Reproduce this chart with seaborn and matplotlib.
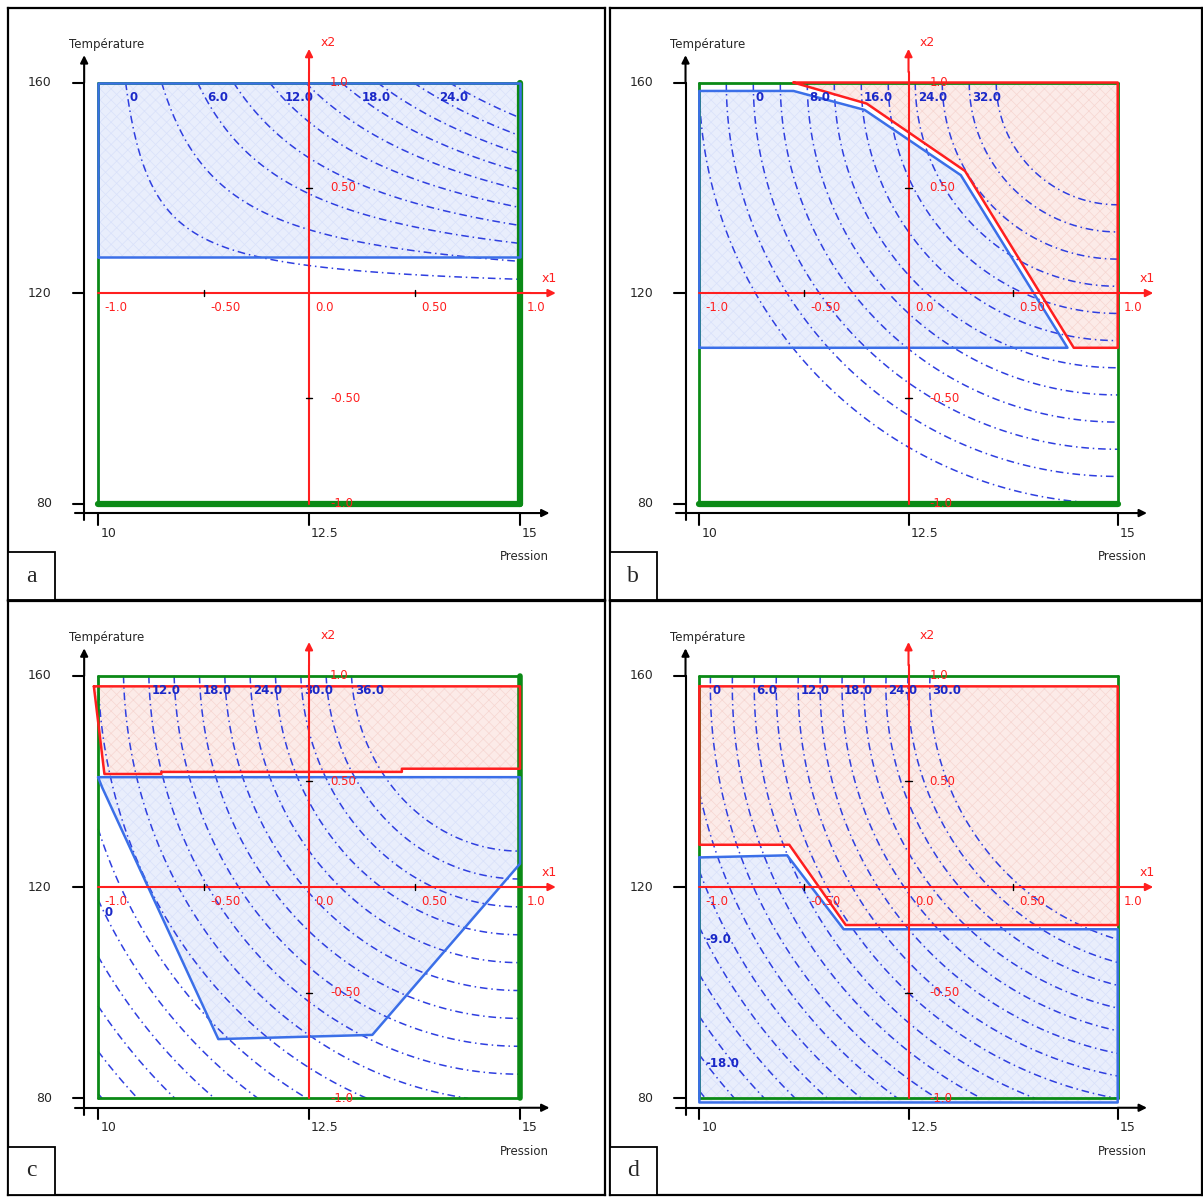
import numpy as np
import matplotlib
matplotlib.use("Agg")
import matplotlib.pyplot as plt
import seaborn as sns
from matplotlib.patches import Rectangle

sns.set_style("white")
plt.rcParams["font.family"] = ["DejaVu Sans"]
plt.rcParams["hatch.linewidth"] = 0.5

# ---- data -------------------------------------------------------------
panel_letters = ["a", "b", "c", "d"]

temp_ticks = ["80", "120", "160"]          # real temperature at coded -1, 0, 1
pres_ticks = ["10", "12.5", "15"]          # real pressure at coded -1, 0, 1
coded_ticks = [-1.0, -0.5, 0.0, 0.5, 1.0]
coded_text = ["-1.0", "-0.50", "0.0", "0.50", "1.0"]

# response surfaces (coded units)
a_model = [17.6, -2.3]                       # gain, offset : gain*(x1+1)*x2 + offset
b_model = [54.0, 31.0, 1.00, 1.00, 1.00]     # peak, slope, x1 centre, x2 centre, x2 stretch
c_model = [56.0, 25.0, 1.00, 1.05, 1.10]
d_model = [65.7, 28.6, 1.35, 0.95, 1.00]

a_levels = [0, 3, 6, 9, 12, 15, 18, 21, 24, 27]
b_levels = [-8, -4, 0, 4, 8, 12, 16, 20, 24, 28, 32, 36]
c_levels = [-12, -9, -6, -3, 0, 3, 6, 9, 12, 15, 18, 21, 24, 27, 30, 33, 36]
d_levels = [-21, -18, -15, -12, -9, -6, -3, 0, 3, 6, 9, 12, 15, 18, 21, 24, 27, 30]

a_top_labels = [0, 6, 12, 18, 24]
b_top_labels = [0, 8, 16, 24, 32]
c_top_labels = [12, 18, 24, 30, 36]
d_top_labels = [0, 6, 12, 18, 24, 30]
c_left_labels = [0]
d_left_labels = [-9, -18]

# feasible (blue) and rejected (red) regions
a_blue_x = [-1.0, 1.0, 1.0, -1.0, -1.0]
a_blue_y = [0.17, 0.17, 1.0, 1.0, 0.17]

b_blue_x = [-1.0, 0.76, 0.25, -0.21, -0.55, -1.0, -1.0]
b_blue_y = [-0.26, -0.26, 0.56, 0.87, 0.96, 0.96, -0.26]
b_red_x = [-0.55, 1.0, 1.0, 0.79, 0.27, -0.20, -0.55]
b_red_y = [1.0, 1.0, -0.26, -0.26, 0.58, 0.90, 1.0]

c_blue_x = [-1.0, 1.0, 1.0, 0.30, -0.43, -0.98, -1.0]
c_blue_y = [0.52, 0.52, 0.11, -0.70, -0.72, 0.47, 0.52]
c_red_x = [-1.02, 1.0, 1.0, 0.44, 0.44, -0.70, -0.70, -0.97, -1.02]
c_red_y = [0.95, 0.95, 0.56, 0.56, 0.545, 0.545, 0.535, 0.535, 0.95]

d_blue_x = [-1.0, -0.58, -0.31, 1.0, 1.0, -1.0, -1.0]
d_blue_y = [0.14, 0.15, -0.20, -0.20, -1.02, -1.02, 0.14]
d_red_x = [-1.0, 1.0, 1.0, -0.30, -0.57, -1.0, -1.0]
d_red_y = [0.95, 0.95, -0.18, -0.18, 0.20, 0.20, 0.95]

# ---- styling ----------------------------------------------------------
BLUE = "#2f3fe0"
BLUE_EDGE = "#3b6fe8"
RED = "#ff1f1f"
GREEN = "#0b8a16"
DASHDOT = (0, (5, 2.5, 1, 2.5))


def hyper(x1, x2, p):
    return p[0] * (x1 + 1) * x2 + p[1]


def cone(x1, x2, p):
    return p[0] - p[1] * np.sqrt((x1 - p[2]) ** 2 + ((x2 - p[3]) / p[4]) ** 2)


def fmt(v):
    return "0" if abs(v) < 1e-9 else "%.1f" % v


def top_positions(f, levels, y0):
    xs = np.linspace(-1, 0.999, 801)
    row = f(xs, np.full_like(xs, y0))
    return [(float(np.interp(L, row, xs)), y0) for L in levels]


def left_positions(f, levels, x0):
    ys = np.linspace(-1, 0.9, 801)
    col = f(np.full_like(ys, x0), ys)
    return [(x0, float(np.interp(L, col, ys))) for L in levels]


def arrow(ax, start, tip, color, lw):
    ax.annotate("", xy=tip, xytext=start,
                arrowprops=dict(arrowstyle="-|>", color=color, lw=lw,
                                mutation_scale=11, shrinkA=0, shrinkB=0),
                zorder=6)


def region(ax, xs, ys, face, hatch_col, edge):
    ax.fill(xs, ys, facecolor=face, edgecolor=hatch_col, hatch="xxx", lw=0, zorder=1)
    sns.lineplot(x=xs, y=ys, sort=False, estimator=None, color=edge, lw=1.8,
                 ax=ax, zorder=4)


def panel(ax, letter, f, levels, top_lab, left_lab, green_w, title_y="Température"):
    # contours of the response
    g = np.linspace(-1, 1, 401)
    X1, X2 = np.meshgrid(g, g)
    Z = f(X1, X2)
    ax.contour(X1, X2, Z, levels=levels, colors=BLUE, linewidths=1.1,
               linestyles=[DASHDOT], zorder=2)
    for (x, y), v in zip(top_positions(f, top_lab, 0.93), top_lab):
        ax.text(x + 0.01, y, fmt(v), ha="left", va="center", fontsize=8.5,
                fontweight="bold", color="#1a28c8", zorder=5)
    for (x, y), v in zip(left_positions(f, left_lab, -0.97), left_lab):
        ax.text(x, y, fmt(v), ha="left", va="center", fontsize=8.5,
                fontweight="bold", color="#1a28c8", zorder=5)

    # experimental domain
    lw_l, lw_r, lw_b, lw_t = green_w
    ax.plot([-1, -1], [-1, 1], color=GREEN, lw=lw_l, zorder=3)
    ax.plot([1, 1], [-1, 1], color=GREEN, lw=lw_r, zorder=3)
    ax.plot([-1, 1], [-1, -1], color=GREEN, lw=lw_b, zorder=3)
    ax.plot([-1, 1], [1, 1], color=GREEN, lw=lw_t, zorder=3)

    # outer (real) axes
    ax.plot([-1.066, -1.066], [-1.08, 1.0], color="black", lw=1.5, zorder=6)
    arrow(ax, (-1.066, 1.0), (-1.066, 1.13), "black", 1.5)
    ax.plot([-1.11, 1.0], [-1.045, -1.045], color="black", lw=1.5, zorder=6)
    arrow(ax, (1.0, -1.045), (1.14, -1.045), "black", 1.5)
    for i, v in enumerate([-1.0, 0.0, 1.0]):
        ax.plot([-1.12, -1.066], [v, v], color="black", lw=1.5, zorder=6)
        ax.text(-1.22, v, temp_ticks[i], ha="right", va="center", fontsize=9)
        ax.plot([v, v], [-1.045, -1.10], color="black", lw=1.5, zorder=6)
        ax.text(v + 0.01, -1.11, pres_ticks[i], ha="left", va="top", fontsize=9)
    ax.text(-0.96, 1.18, title_y, ha="center", va="center", fontsize=8.5)
    ax.text(1.02, -1.25, "Pression", ha="center", va="center", fontsize=8.5)

    # coded axes
    ax.plot([-1, 1.05], [0, 0], color=RED, lw=1.5, zorder=5)
    arrow(ax, (1.05, 0), (1.17, 0), RED, 1.5)
    ax.plot([0, 0], [-1, 1.05], color=RED, lw=1.5, zorder=5)
    arrow(ax, (0, 1.05), (0, 1.16), RED, 1.5)
    ax.text(1.14, 0.07, "x1", color=RED, fontsize=9, ha="center", va="center")
    ax.text(0.09, 1.19, "x2", color=RED, fontsize=9, ha="center", va="center")
    for v, t in zip(coded_ticks, coded_text):
        ax.text(v + 0.03, -0.04, t, color=RED, fontsize=8.5, ha="left", va="top", zorder=6)
        if v != 0.0:
            ax.text(0.1, v, t, color=RED, fontsize=8.5, ha="left", va="center", zorder=6)
        if abs(v) == 0.5:
            ax.plot([v, v], [-0.015, 0.015], color="black", lw=1, zorder=6)
            ax.plot([-0.015, 0.015], [v, v], color="black", lw=1, zorder=6)

    # panel letter box
    ax.add_patch(Rectangle((0, 0), 47 / 597, 48 / 592, transform=ax.transAxes,
                           facecolor="white", edgecolor="black", lw=1.3, zorder=7))
    ax.text(23.5 / 597, 24 / 592, letter, transform=ax.transAxes, ha="center",
            va="center", fontsize=17, family="Liberation Serif", zorder=8)

    ax.set_xlim(-1.427, 1.403)
    ax.set_ylim(-1.458, 1.354)
    ax.set_xticks([])
    ax.set_yticks([])
    ax.set_xlabel("")
    ax.set_ylabel("")
    for s in ax.spines.values():
        s.set_visible(True)
        s.set_color("black")
        s.set_linewidth(1.6)


fig = plt.figure(figsize=(12.03, 11.97), dpi=100)
W, H = 1203.0, 1197.0
ax_a = fig.add_axes([8 / W, (H - 600) / H, 597 / W, 592 / H])
ax_b = fig.add_axes([610 / W, (H - 600) / H, 592 / W, 592 / H])
ax_c = fig.add_axes([8 / W, 2 / H, 597 / W, 594 / H])
ax_d = fig.add_axes([610 / W, 2 / H, 592 / W, 594 / H])

BLUE_FACE = "#e9eefc"
BLUE_HATCH = "#d9e1fa"
RED_FACE = "#fcebe8"
RED_HATCH = "#f6d6d1"

region(ax_a, a_blue_x, a_blue_y, BLUE_FACE, BLUE_HATCH, BLUE_EDGE)
panel(ax_a, "a", lambda x, y: hyper(x, y, a_model), a_levels, a_top_labels, [],
      (2.0, 4.5, 4.5, 2.0))

region(ax_b, b_blue_x, b_blue_y, BLUE_FACE, BLUE_HATCH, BLUE_EDGE)
region(ax_b, b_red_x, b_red_y, RED_FACE, RED_HATCH, RED)
panel(ax_b, "b", lambda x, y: cone(x, y, b_model), b_levels, b_top_labels, [],
      (2.0, 2.0, 4.5, 2.0))

region(ax_c, c_blue_x, c_blue_y, BLUE_FACE, BLUE_HATCH, BLUE_EDGE)
region(ax_c, c_red_x, c_red_y, RED_FACE, RED_HATCH, RED)
panel(ax_c, "c", lambda x, y: cone(x, y, c_model), c_levels, c_top_labels, c_left_labels,
      (2.0, 4.0, 2.0, 2.0))

region(ax_d, d_blue_x, d_blue_y, BLUE_FACE, BLUE_HATCH, BLUE_EDGE)
region(ax_d, d_red_x, d_red_y, RED_FACE, RED_HATCH, RED)
panel(ax_d, "d", lambda x, y: cone(x, y, d_model), d_levels, d_top_labels, d_left_labels,
      (2.0, 2.0, 2.0, 2.0))

fig.savefig("out.png", dpi=100)
